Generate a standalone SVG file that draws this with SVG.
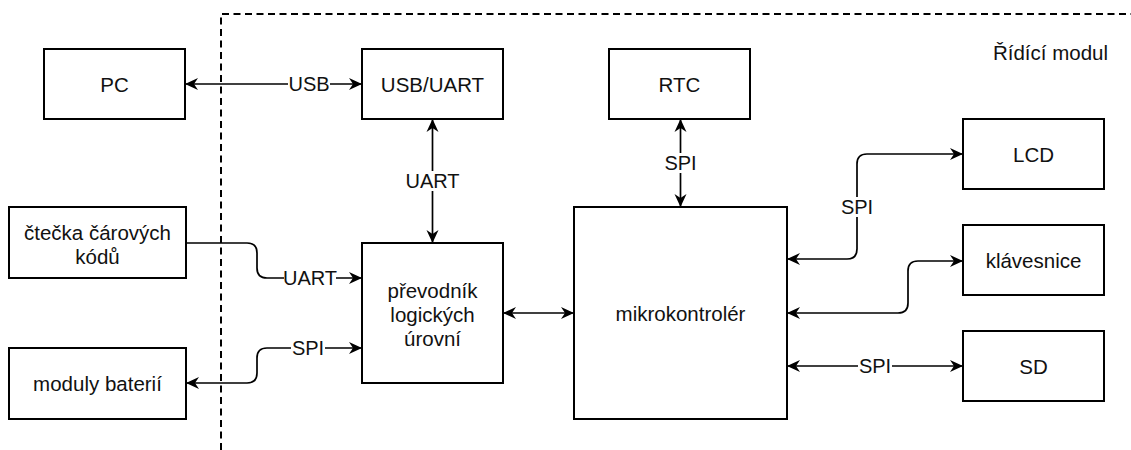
<svg xmlns="http://www.w3.org/2000/svg" width="1131" height="450" viewBox="0 0 1131 450">
<style>
.box{fill:#fff;stroke:#000;stroke-width:2}
.t{font-family:"Liberation Sans",Arial,sans-serif;font-size:20.5px;fill:#111;text-anchor:middle;dominant-baseline:central}
.lbl{font-family:"Liberation Sans",Arial,sans-serif;font-size:20px;fill:#111;text-anchor:middle;dominant-baseline:central}
.lb{fill:#fff}
.c{fill:none;stroke:#000;stroke-width:1.7}
.dash{fill:none;stroke:#000;stroke-width:2;stroke-dasharray:7 4.5}
</style>
<defs>
<marker id="ar" markerUnits="userSpaceOnUse" markerWidth="14" markerHeight="13" refX="13" refY="6" orient="auto-start-reverse" viewBox="0 0 14 12">
<path d="M0,0 L13,6 L0,12 L4,6 Z" fill="#000"/>
</marker>
</defs>
<rect width="1131" height="450" fill="#fff"/>
<g id="boundary">
<path class="dash" d="M221,450 V14 H1131"/>
<text class="t" x="1108" y="52" style="text-anchor:end">Řídící modul</text>
</g>
<g id="connectors">
<path class="c" d="M185,84 H362" marker-start="url(#ar)" marker-end="url(#ar)"/>
<rect class="lb" x="288" y="74" width="42" height="20"/>
<text class="lbl" x="309" y="84">USB</text>
<path class="c" d="M432.5,119 V243" marker-start="url(#ar)" marker-end="url(#ar)"/>
<rect class="lb" x="408" y="171" width="50" height="20"/>
<text class="lbl" x="432.5" y="181">UART</text>
<path class="c" d="M680.5,119 V207" marker-start="url(#ar)" marker-end="url(#ar)"/>
<rect class="lb" x="664" y="153" width="34" height="20"/>
<text class="lbl" x="680.5" y="163">SPI</text>
<path class="c" d="M503,313 H574" marker-start="url(#ar)" marker-end="url(#ar)"/>
<path class="c" d="M787,259 H847 Q857,259 857,249 V164 Q857,154 867,154 H963" marker-start="url(#ar)" marker-end="url(#ar)"/>
<rect class="lb" x="840" y="197" width="34" height="20"/>
<text class="lbl" x="857" y="207">SPI</text>
<path class="c" d="M787,313 H898 Q908,313 908,303 V271 Q908,261 918,261 H963" marker-start="url(#ar)" marker-end="url(#ar)"/>
<path class="c" d="M787,366 H963" marker-start="url(#ar)" marker-end="url(#ar)"/>
<rect class="lb" x="858" y="356" width="34" height="20"/>
<text class="lbl" x="875" y="366">SPI</text>
<path class="c" d="M186,243 H247 Q257,243 257,253 V268 Q257,278 267,278 H362" marker-end="url(#ar)"/>
<rect class="lb" x="284" y="268" width="52" height="20"/>
<text class="lbl" x="310" y="278">UART</text>
<path class="c" d="M362,348 H267 Q257,348 257,358 V373 Q257,383 247,383 H186" marker-start="url(#ar)" marker-end="url(#ar)"/>
<rect class="lb" x="291" y="338" width="34" height="20"/>
<text class="lbl" x="308" y="348">SPI</text>
</g>
<g id="pc"><rect class="box" x="44" y="49" width="141" height="70"/><text class="t" x="114.5" y="84">PC</text></g>
<g id="usbuart"><rect class="box" x="362" y="49" width="141" height="70"/><text class="t" x="432.5" y="84">USB/UART</text></g>
<g id="rtc"><rect class="box" x="609" y="49" width="141" height="70"/><text class="t" x="679.5" y="84">RTC</text></g>
<g id="lcd"><rect class="box" x="963" y="119" width="141" height="70"/><text class="t" x="1033.5" y="154">LCD</text></g>
<g id="klavesnice"><rect class="box" x="963" y="225" width="141" height="70"/><text class="t" x="1033.5" y="260">klávesnice</text></g>
<g id="sd"><rect class="box" x="963" y="331" width="141" height="70"/><text class="t" x="1033.5" y="366">SD</text></g>
<g id="mikro"><rect class="box" x="574" y="207" width="213" height="212"/><text class="t" x="680.5" y="313">mikrokontrolér</text></g>
<g id="prevodnik"><rect class="box" x="362" y="243" width="141" height="140"/><text class="t" x="432.5" y="290">převodník</text><text class="t" x="432.5" y="314">logických</text><text class="t" x="432.5" y="338">úrovní</text></g>
<g id="ctecka"><rect class="box" x="9" y="207" width="177" height="71"/><text class="t" x="97.5" y="232">čtečka čárových</text><text class="t" x="97.5" y="256">kódů</text></g>
<g id="moduly"><rect class="box" x="9" y="348" width="177" height="71"/><text class="t" x="97.5" y="383">moduly baterií</text></g>
</svg>
